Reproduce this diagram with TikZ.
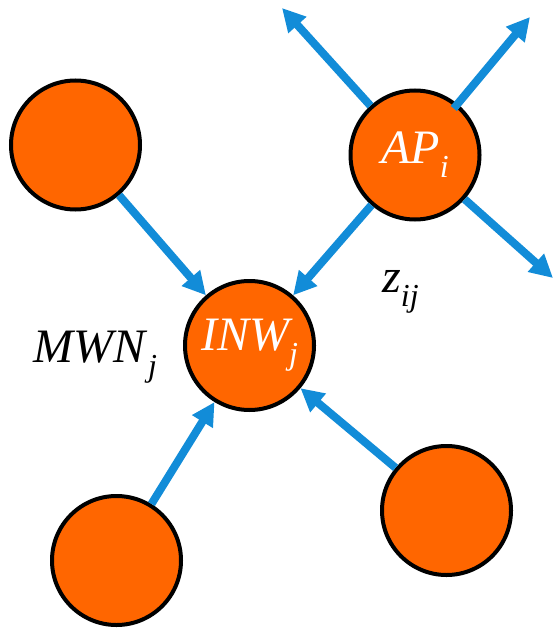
\documentclass[tikz,border=0pt]{standalone}
\usepackage{fontspec}
\setmainfont{Liberation Serif}
\usetikzlibrary{arrows.meta}

\definecolor{nodeorange}{RGB}{255,102,0}
\definecolor{linkblue}{RGB}{18,140,216}

% italic subscript, lowered below the baseline
\newcommand{\lowsub}[1]{\raisebox{-14pt}{\fontsize{32}{32}\selectfont\itshape #1}}

\tikzset{
  station/.style={circle, draw=black, line width=4pt, fill=nodeorange,
                  minimum size=129pt, inner sep=0pt,
                  text=white, font=\fontsize{48}{56}\selectfont\itshape},
  link/.style={draw=linkblue, line width=8pt,
               -{Triangle[length=23pt, width=23pt]}},
  tag/.style={font=\fontsize{48}{56}\selectfont\itshape, inner sep=0pt}
}

\begin{document}
\begin{tikzpicture}[x=1pt, y=-1pt]
  \useasboundingbox (0,0) rectangle (554,628);

  % stations
  \node[station] (tl)  at (75.5,145)   {};
  \node[station] (ap)  at (415,155)    {AP\lowsub{i}};
  \node[station] (inw) at (249.5,345.5) {INW\lowsub{j}};
  \node[station] (bl)  at (116.5,560.5) {};
  \node[station] (br)  at (446.5,510.5) {};

  % free ends of the outgoing links
  \coordinate (outNW) at (282,8);
  \coordinate (outNE) at (530,17);
  \coordinate (outSE) at (553,278);

  % links into the gateway
  \draw[link] (tl) -- (inw);
  \draw[link] (ap) -- (inw);
  \draw[link] (bl) -- (inw);
  \draw[link] (br) -- (inw);

  % links leaving the access point
  \draw[link] (ap) -- (outNW);
  \draw[link, shorten <=-6pt] (ap) -- (outNE);
  \draw[link] (ap) -- (outSE);

  % labels
  \node[tag, anchor=base west] (mwn) at (33,362) {MWN\hspace{3pt}\lowsub{j}};
  \node[tag, anchor=base west] (zij) at (382,292) {z\lowsub{ij}};
\end{tikzpicture}
\end{document}
